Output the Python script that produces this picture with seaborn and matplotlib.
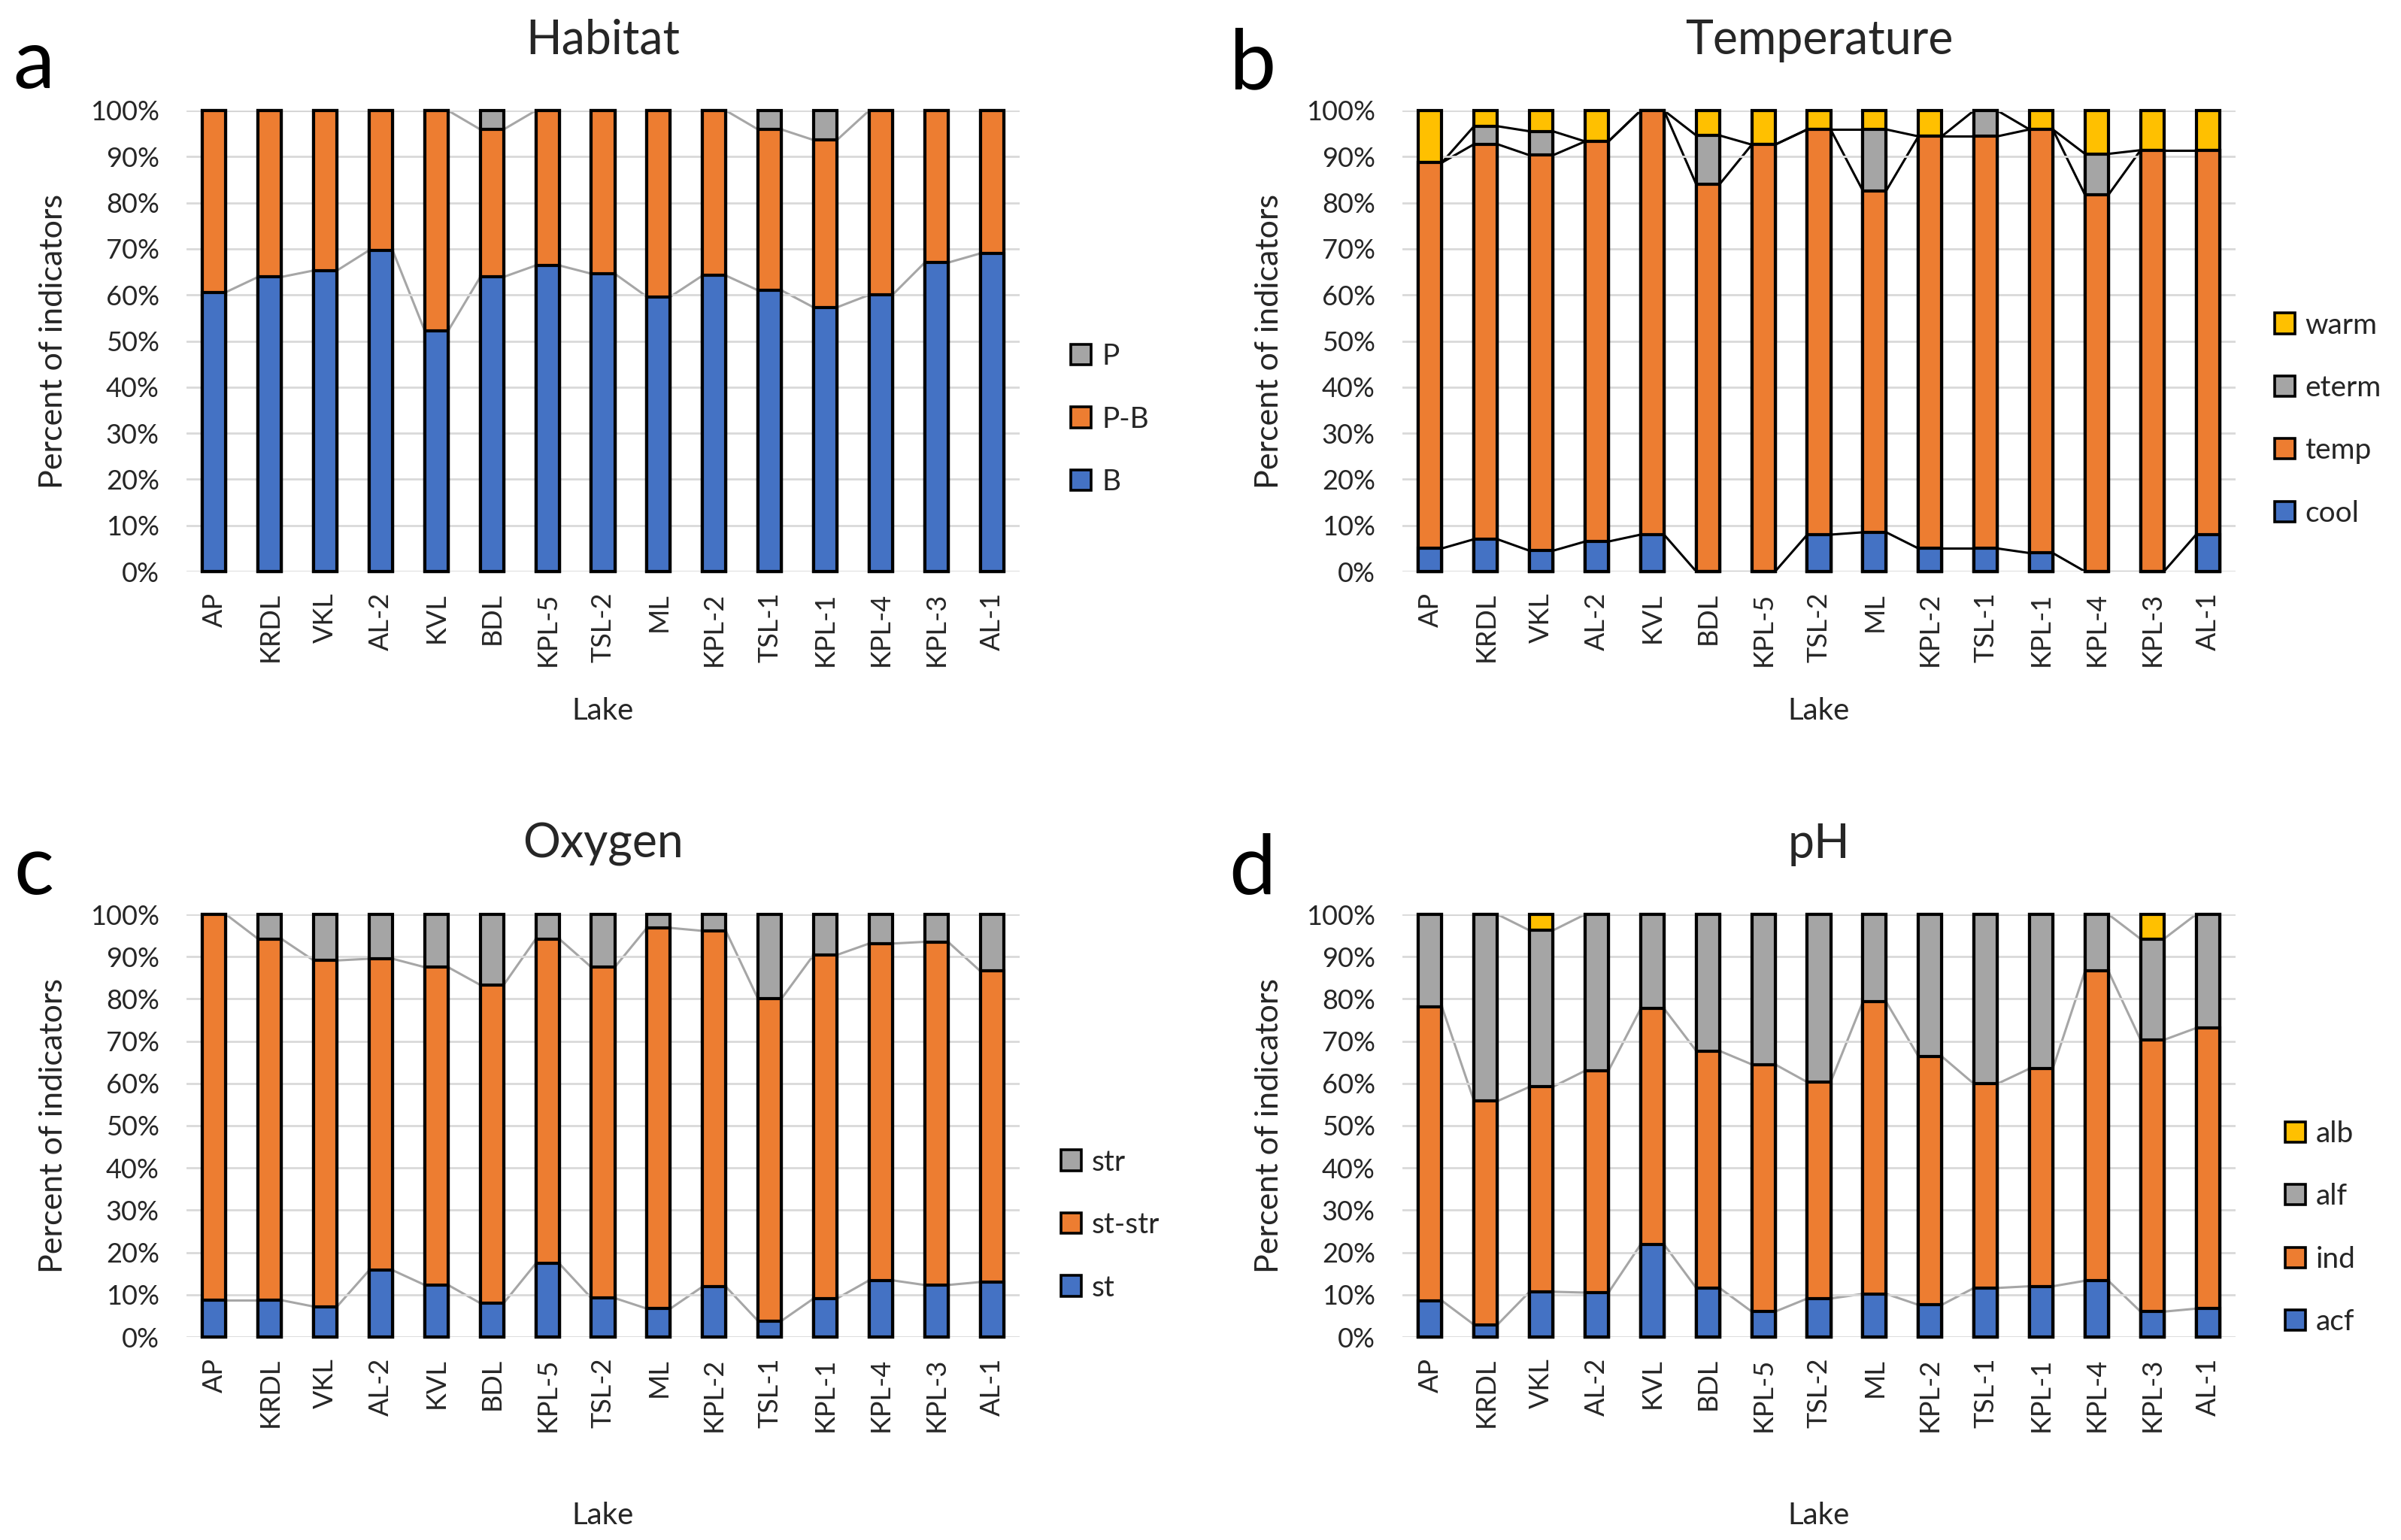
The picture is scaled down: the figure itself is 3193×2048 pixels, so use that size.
import numpy as np
import seaborn as sns
import matplotlib.pyplot as plt
from matplotlib.patches import Patch

lakes = ['AP', 'KRDL', 'VKL', 'AL-2', 'KVL', 'BDL', 'KPL-5', 'TSL-2', 'ML',
         'KPL-2', 'TSL-1', 'KPL-1', 'KPL-4', 'KPL-3', 'AL-1']

# a: Habitat
hab_B = [60.6, 63.9, 65.3, 69.7, 52.2, 63.9, 66.4, 64.6, 59.6, 64.2, 61.0, 57.3, 60.0, 67.0, 69.0]
hab_PB = [39.4, 36.1, 34.7, 30.3, 47.8, 32.0, 33.6, 35.4, 40.4, 35.8, 34.9, 36.3, 40.0, 33.0, 31.0]
hab_P = [0, 0, 0, 0, 0, 4.1, 0, 0, 0, 0, 4.1, 6.4, 0, 0, 0]

# b: Temperature
tmp_cool = [5.0, 7.0, 4.5, 6.5, 8.0, 0, 0, 8.0, 8.5, 5.0, 5.0, 4.0, 0, 0, 8.0]
tmp_temp = [83.7, 85.7, 85.8, 86.8, 92.0, 84.0, 92.6, 87.9, 74.1, 89.4, 89.4, 91.9, 81.7, 91.4, 83.4]
tmp_eterm = [0, 3.9, 5.2, 0, 0, 10.6, 0, 0, 13.3, 0, 5.6, 0, 8.9, 0, 0]
tmp_warm = [11.3, 3.4, 4.5, 6.7, 0, 5.4, 7.4, 4.1, 4.1, 5.6, 0, 4.1, 9.4, 8.6, 8.6]

# c: Oxygen
oxy_st = [8.7, 8.7, 7.2, 15.8, 12.3, 8.0, 17.4, 9.2, 6.7, 11.9, 3.8, 9.1, 13.4, 12.3, 13.0]
oxy_ststr = [91.3, 85.5, 81.9, 73.7, 75.2, 75.3, 76.8, 78.3, 90.1, 84.2, 76.2, 81.3, 79.7, 81.2, 73.6]
oxy_str = [0, 5.8, 10.9, 10.5, 12.5, 16.7, 5.8, 12.5, 3.2, 3.9, 20.0, 9.6, 6.9, 6.5, 13.4]

# d: pH
ph_acf = [8.6, 2.9, 10.7, 10.5, 21.9, 11.6, 6.0, 9.1, 10.2, 7.6, 11.6, 12.0, 13.3, 6.0, 6.7]
ph_ind = [69.6, 52.9, 48.5, 52.5, 55.8, 56.1, 58.5, 51.2, 69.1, 58.8, 48.3, 51.5, 73.3, 64.3, 66.4]
ph_alf = [21.8, 44.2, 37.0, 37.0, 22.3, 32.3, 35.5, 39.7, 20.7, 33.6, 40.1, 36.5, 13.4, 23.9, 26.9]
ph_alb = [0, 0, 3.8, 0, 0, 0, 0, 0, 0, 0, 0, 0, 0, 5.8, 0]

BLUE, ORANGE, GREY, YELLOW = '#4472C4', '#ED7D31', '#A5A5A5', '#FFC000'
TXT = '#262626'

sns.set_style('white')
plt.rcParams['font.family'] = ['Lato', 'DejaVu Sans']

W, H = 3193, 2048
fig = plt.figure(figsize=(W / 200, H / 200), dpi=200)

bar_w = 0.42


def panel(rect, parts, names, colors, line_color, title, letter, letter_xy, leg_anchor, lake_off):
    ax = fig.add_axes(rect)
    cum = np.cumsum(np.array(parts, dtype=float), axis=0)
    for k in reversed(range(len(parts))):
        sns.barplot(x=lakes, y=cum[k], order=lakes, color=colors[k], width=bar_w,
                    edgecolor='black', linewidth=1.5, saturation=1, errorbar=None, ax=ax)
    # excel style series lines between the bars
    for k in range(len(parts) - 1):
        for i in range(len(lakes) - 1):
            ax.plot([i + bar_w / 2, i + 1 - bar_w / 2], [cum[k][i], cum[k][i + 1]],
                    color=line_color, lw=1.1, zorder=0.5)
    for p in ax.patches:
        p.set_clip_on(False)
    ax.set_xlim(-0.5, len(lakes) - 0.5)
    ax.set_ylim(0, 100)
    ax.set_yticks(range(0, 101, 10))
    ax.set_yticklabels([f'{v}%' for v in range(0, 101, 10)])
    ax.yaxis.grid(True, color='#D9D9D9', lw=1.0)
    ax.set_axisbelow(True)
    for s in ax.spines.values():
        s.set_visible(False)
    ax.tick_params(axis='y', length=0, labelsize=13, labelcolor=TXT, pad=13)
    ax.tick_params(axis='x', length=0, labelsize=13, labelcolor=TXT, pad=10, labelrotation=90)
    ax.set_title(title, fontsize=22.5, color=TXT, pad=27)
    ax.set_ylabel('Percent of indicators', fontsize=15.5, color=TXT)
    ax.set_xlabel('Lake', fontsize=14.5, color=TXT)
    ax_h = rect[3] * H
    ax_w = rect[2] * W
    ax.yaxis.set_label_coords(-158 / ax_w, 0.5)
    ax.xaxis.set_label_coords(0.5, -lake_off / ax_h)
    handles = [Patch(facecolor=colors[k], edgecolor='black', lw=1.3) for k in reversed(range(len(parts)))]
    ax.legend(handles, list(reversed(names)), loc='center left', bbox_to_anchor=leg_anchor,
              frameon=False, fontsize=14, labelspacing=1.22, handlelength=0.7,
              handleheight=0.7, handletextpad=0.35, labelcolor=TXT)
    fig.text(letter_xy[0] / W, 1 - letter_xy[1] / H, letter, fontsize=40, color='black',
             ha='center', va='center')
    return ax


top_rect = lambda left: [left / W, 1 - 760 / H, 1108 / W, (760 - 147) / H]
bot_rect = lambda left: [left / W, 1 - 1778 / H, 1108 / W, (1778 - 1216) / H]

panel(top_rect(248), [hab_B, hab_PB, hab_P], ['B', 'P-B', 'P'], [BLUE, ORANGE, GREY],
      '#A6A6A6', 'Habitat', 'a', (45, 86), (1.03, 0.33), 167)
panel(top_rect(1865), [tmp_cool, tmp_temp, tmp_eterm, tmp_warm], ['cool', 'temp', 'eterm', 'warm'],
      [BLUE, ORANGE, GREY, YELLOW], 'black', 'Temperature', 'b', (1665, 86), (1.015, 0.33), 167)
panel(bot_rect(248), [oxy_st, oxy_ststr, oxy_str], ['st', 'st-str', 'str'], [BLUE, ORANGE, GREY],
      '#A6A6A6', 'Oxygen', 'c', (45, 1158), (1.018, 0.265), 219)
panel(bot_rect(1865), [ph_acf, ph_ind, ph_alf, ph_alb], ['acf', 'ind', 'alf', 'alb'],
      [BLUE, ORANGE, GREY, YELLOW], '#A6A6A6', 'pH', 'd', (1665, 1158), (1.028, 0.258), 219)

plt.savefig('out.png', dpi=200)
